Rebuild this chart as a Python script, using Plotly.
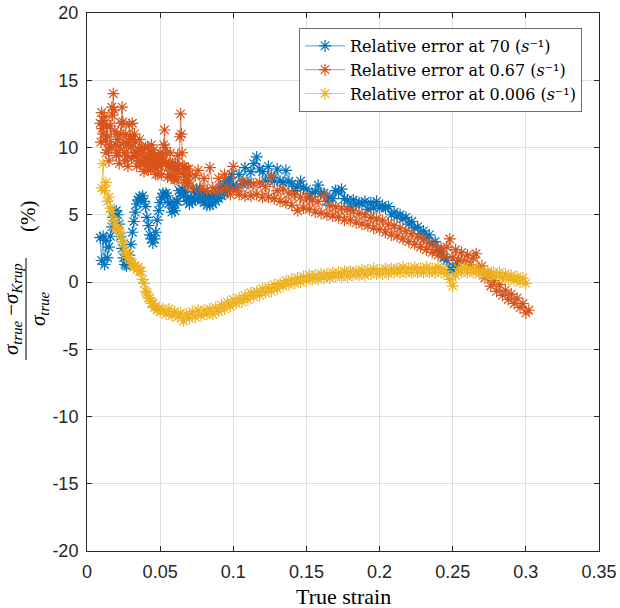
import plotly.graph_objects as go

# ---------------- data ----------------
strain_70 = [
    0.009, 0.010, 0.011, 0.012, 0.013, 0.014, 0.015, 0.016, 0.017, 0.018,
    0.019, 0.020, 0.021, 0.022, 0.023, 0.024, 0.025, 0.026, 0.027, 0.028,
    0.029, 0.030, 0.031, 0.032, 0.033, 0.034, 0.035, 0.036, 0.037, 0.038,
    0.039, 0.040, 0.041, 0.042, 0.043, 0.044, 0.045, 0.046, 0.047, 0.048,
    0.049, 0.050, 0.051, 0.052, 0.053, 0.054, 0.055, 0.056, 0.057, 0.058,
    0.059, 0.060, 0.061, 0.062, 0.063, 0.064, 0.065, 0.066, 0.067, 0.068,
    0.069, 0.070, 0.071, 0.072, 0.073, 0.074, 0.075, 0.076, 0.077, 0.078,
    0.079, 0.080, 0.081, 0.082, 0.083, 0.084, 0.085, 0.086, 0.087, 0.088,
    0.089, 0.090, 0.091, 0.092, 0.093, 0.094, 0.095, 0.096, 0.097, 0.098,
    0.099, 0.100, 0.102, 0.104, 0.106, 0.108, 0.110, 0.112, 0.114, 0.116,
    0.118, 0.120, 0.122, 0.124, 0.126, 0.128, 0.130, 0.132, 0.134, 0.136,
    0.138, 0.140, 0.142, 0.144, 0.146, 0.148, 0.150, 0.152, 0.154, 0.156,
    0.158, 0.160, 0.162, 0.164, 0.166, 0.168, 0.170, 0.172, 0.174, 0.176,
    0.178, 0.180, 0.182, 0.184, 0.186, 0.188, 0.190, 0.192, 0.194, 0.196,
    0.198, 0.200, 0.202, 0.204, 0.206, 0.208, 0.210, 0.212, 0.214, 0.216,
    0.218, 0.220, 0.222, 0.224, 0.226, 0.228, 0.230, 0.232, 0.234, 0.236,
    0.238, 0.240, 0.242, 0.244, 0.246, 0.248, 0.250, 0.252, 0.253]
err_70 = [
    3.3, 1.6, 3.4, 1.3, 3.1, 1.8, 2.6, 3.4, 4.1, 4.8,
    5.2, 5.3, 5.0, 4.3, 3.4, 2.5, 1.8, 1.3, 1.2, 1.4,
    2.0, 2.8, 3.7, 4.5, 5.2, 5.8, 6.1, 6.3, 6.2, 6.4,
    6.0, 5.6, 4.8, 4.2, 3.5, 3.2, 2.9, 3.2, 3.7, 4.6,
    5.3, 5.9, 6.3, 6.6, 6.4, 6.6, 6.4, 5.8, 5.9, 5.2,
    5.5, 5.3, 6.0, 6.0, 6.8, 6.6, 6.9, 6.4, 6.7, 6.0,
    6.3, 5.8, 6.2, 6.0, 6.7, 6.1, 6.9, 6.3, 6.9, 6.1,
    6.6, 5.9, 6.4, 5.7, 6.3, 5.7, 6.4, 5.8, 6.5, 6.0,
    6.7, 6.2, 7.0, 6.4, 7.2, 6.6, 7.5, 6.8, 7.7, 7.0,
    8.0, 7.2, 7.0, 8.0, 7.3, 8.5, 7.4, 8.2, 8.8, 9.3,
    8.4, 8.2, 7.5, 8.6, 7.8, 7.5, 8.4, 7.5, 7.4, 8.3,
    7.5, 7.3, 6.8, 7.1, 7.5, 7.0, 6.9, 6.3, 6.6, 6.7,
    7.2, 6.6, 6.6, 6.0, 6.3, 6.2, 6.8, 6.7, 6.9, 6.2,
    6.1, 5.6, 6.1, 5.8, 5.9, 5.8, 6.0, 5.4, 5.9, 5.5,
    6.0, 5.5, 5.7, 5.5, 5.6, 5.0, 5.2, 4.9, 5.0, 4.7,
    4.8, 4.3, 4.5, 4.0, 4.1, 3.6, 3.8, 3.3, 3.5, 2.9,
    3.0, 2.4, 2.3, 1.8, 1.6, 1.0, 0.9, 1.0, 1.4]

strain_067 = [
    0.009, 0.0095, 0.010, 0.0105, 0.011, 0.0115, 0.012, 0.0125, 0.013, 0.0135,
    0.014, 0.0145, 0.015, 0.0155, 0.016, 0.0165, 0.017, 0.0175, 0.018, 0.0185,
    0.019, 0.0195, 0.020, 0.0205, 0.021, 0.0215, 0.022, 0.0225, 0.023, 0.0235,
    0.024, 0.0245, 0.025, 0.0255, 0.026, 0.0265, 0.027, 0.0275, 0.028, 0.0285,
    0.029, 0.0295, 0.030, 0.0305, 0.031, 0.0315, 0.032, 0.0325, 0.033, 0.0335,
    0.034, 0.0345, 0.035, 0.0355, 0.036, 0.0365, 0.037, 0.0375, 0.038, 0.0385,
    0.039, 0.0395, 0.040, 0.0405, 0.041, 0.0415, 0.042, 0.0425, 0.043, 0.0435,
    0.044, 0.0445, 0.045, 0.0455, 0.046, 0.0465, 0.047, 0.0475, 0.048, 0.0485,
    0.049, 0.0495, 0.050, 0.0505, 0.051, 0.0515, 0.052, 0.0525, 0.053, 0.0535,
    0.054, 0.0545, 0.055, 0.0555, 0.056, 0.0565, 0.057, 0.0575, 0.058, 0.0585,
    0.059, 0.0595, 0.060, 0.0605, 0.061, 0.0615, 0.062, 0.0625, 0.063, 0.0635,
    0.064, 0.0645, 0.065, 0.0655, 0.066, 0.0665, 0.067, 0.0675, 0.068, 0.0685,
    0.069, 0.0695, 0.070,
    0.072, 0.074, 0.076, 0.078, 0.080, 0.082, 0.084, 0.086, 0.088, 0.090,
    0.092, 0.094, 0.096, 0.098, 0.100, 0.102, 0.104, 0.106, 0.108, 0.110,
    0.112, 0.114, 0.116, 0.118, 0.120, 0.122, 0.124, 0.126, 0.128, 0.130,
    0.132, 0.134, 0.136, 0.138, 0.140, 0.142, 0.144, 0.146, 0.148, 0.150,
    0.152, 0.154, 0.156, 0.158, 0.160, 0.162, 0.164, 0.166, 0.168, 0.170,
    0.172, 0.174, 0.176, 0.178, 0.180, 0.182, 0.184, 0.186, 0.188, 0.190,
    0.192, 0.194, 0.196, 0.198, 0.200, 0.202, 0.204, 0.206, 0.208, 0.210,
    0.212, 0.214, 0.216, 0.218, 0.220, 0.222, 0.224, 0.226, 0.228, 0.230,
    0.232, 0.234, 0.236, 0.238, 0.240, 0.242, 0.244, 0.246, 0.248, 0.250,
    0.252, 0.254, 0.256, 0.258, 0.260, 0.262, 0.264, 0.266, 0.268, 0.270,
    0.272, 0.274, 0.276, 0.278, 0.280, 0.282, 0.284, 0.286, 0.288, 0.290,
    0.292, 0.294, 0.296, 0.298, 0.300, 0.302]
err_067 = [
    11.8, 10.4, 12.6, 11.4, 11.0, 12.0, 12.3, 10.5, 9.6, 11.6,
    10.8, 9.8, 9.0, 10.2, 11.6, 10.0, 13.0, 12.4, 14.0, 12.8,
    11.2, 10.2, 9.4, 11.0, 10.6, 9.6, 8.8, 10.0, 11.0, 11.8,
    13.0, 11.9, 10.4, 9.6, 9.0, 11.0, 10.2, 9.4, 8.6, 10.4,
    11.7, 10.8, 10.0, 9.2, 11.8, 10.6, 9.4, 11.0, 10.4, 9.4,
    8.6, 9.6, 9.8, 9.0, 10.6, 9.8, 8.8, 10.0, 9.6, 8.8,
    8.2, 9.2, 10.0, 8.6, 9.2, 10.0, 8.4, 9.0, 9.6, 8.4,
    10.2, 9.2, 8.6, 9.8, 9.4, 8.6, 8.0, 8.8, 9.2, 8.0,
    8.6, 9.2, 9.6, 8.6, 8.0, 9.4, 9.0, 10.2, 11.3, 10.0,
    8.8, 9.6, 7.8, 8.6, 8.8, 8.0, 9.6, 8.6, 7.8, 8.8,
    8.6, 7.8, 7.6, 8.8, 8.4, 7.6, 9.4, 8.6, 8.2, 10.8,
    12.5, 11.0, 9.6, 8.6, 8.0, 8.6, 7.4, 7.8, 8.4, 7.6,
    7.2, 8.4, 8.0,
    7.0, 7.9, 8.3, 6.9, 7.7, 6.8, 8.5, 7.0, 6.7, 7.7,
    6.8, 8.0, 7.0, 6.5, 8.6, 6.8, 6.5, 7.5, 6.4, 7.3,
    6.4, 7.3, 6.5, 7.4, 6.3, 7.1, 6.3, 7.9, 6.2, 6.8,
    6.0, 6.9, 5.9, 6.6, 5.7, 6.5, 5.3, 6.3, 5.5, 6.3,
    5.4, 6.1, 5.2, 6.0, 5.1, 6.4, 5.0, 5.7, 4.9, 5.6,
    4.8, 5.5, 4.6, 5.4, 4.6, 5.3, 4.4, 5.1, 4.3, 5.0,
    4.2, 4.8, 4.0, 4.7, 3.9, 4.6, 3.7, 4.3, 3.5, 4.2,
    3.4, 4.0, 3.2, 3.8, 3.0, 3.6, 2.8, 3.4, 2.6, 3.2,
    2.4, 2.9, 2.2, 2.7, 2.0, 2.5, 1.9, 2.6, 3.2, 1.8,
    2.4, 1.6, 2.2, 1.5, 2.0, 1.3, 1.8, 2.1, 1.0, 1.2,
    0.3, 0.6, -0.3, 0.1, -0.7, -0.2, -1.0, -0.6, -1.3, -0.9,
    -1.6, -1.2, -1.9, -1.6, -2.3, -2.1]

strain_0006 = [
    0.010, 0.011, 0.012, 0.013, 0.014, 0.015, 0.016, 0.017, 0.018, 0.019,
    0.020, 0.021, 0.022, 0.023, 0.024, 0.025, 0.026, 0.027, 0.028, 0.029,
    0.030, 0.031, 0.032, 0.033, 0.034, 0.035, 0.036, 0.037, 0.038, 0.039,
    0.040, 0.041, 0.042, 0.043, 0.044, 0.045, 0.046, 0.047, 0.048, 0.049,
    0.050, 0.052, 0.054, 0.056, 0.058, 0.060, 0.062, 0.064, 0.066, 0.068,
    0.070, 0.072, 0.074, 0.076, 0.078, 0.080, 0.082, 0.084, 0.086, 0.088,
    0.090, 0.092, 0.094, 0.096, 0.098, 0.100, 0.102, 0.104, 0.106, 0.108,
    0.110, 0.112, 0.114, 0.116, 0.118, 0.120, 0.122, 0.124, 0.126, 0.128,
    0.130, 0.132, 0.134, 0.136, 0.138, 0.140, 0.142, 0.144, 0.146, 0.148,
    0.150, 0.152, 0.154, 0.156, 0.158, 0.160, 0.162, 0.164, 0.166, 0.168,
    0.170, 0.172, 0.174, 0.176, 0.178, 0.180, 0.182, 0.184, 0.186, 0.188,
    0.190, 0.192, 0.194, 0.196, 0.198, 0.200, 0.202, 0.204, 0.206, 0.208,
    0.210, 0.212, 0.214, 0.216, 0.218, 0.220, 0.222, 0.224, 0.226, 0.228,
    0.230, 0.232, 0.234, 0.236, 0.238, 0.240, 0.242, 0.244, 0.246, 0.248,
    0.250, 0.252, 0.254, 0.256, 0.258, 0.260, 0.262, 0.264, 0.266, 0.268,
    0.270, 0.272, 0.274, 0.276, 0.278, 0.280, 0.282, 0.284, 0.286, 0.288,
    0.290, 0.292, 0.294, 0.296, 0.298, 0.300]
err_0006 = [
    7.0, 8.8, 6.8, 7.4, 6.0, 6.3, 5.5, 5.2, 4.6, 4.5,
    4.0, 4.1, 3.7, 3.6, 3.0, 2.9, 2.3, 2.2, 1.8, 1.8,
    1.4, 1.4, 1.1, 1.2, 0.9, 1.1, 0.8, 0.8, 0.2, -0.1,
    -0.7, -0.8, -1.2, -1.2, -1.6, -1.6, -1.9, -1.8, -2.1, -2.0,
    -2.2, -2.0, -2.4, -2.0, -2.5, -2.2, -2.6, -2.3, -2.9, -2.4,
    -2.7, -2.2, -2.6, -2.1, -2.5, -2.1, -2.4, -2.0, -2.4, -1.9,
    -2.2, -1.7, -2.0, -1.5, -1.8, -1.3, -1.6, -1.2, -1.5, -1.0,
    -1.3, -0.8, -1.1, -0.7, -1.0, -0.5, -0.8, -0.4, -0.7, -0.2,
    -0.5, -0.1, -0.3, 0.1, -0.2, 0.2, -0.1, 0.3, 0.0, 0.4,
    0.1, 0.5, 0.2, 0.5, 0.2, 0.6, 0.3, 0.6, 0.3, 0.7,
    0.4, 0.7, 0.4, 0.8, 0.4, 0.8, 0.5, 0.8, 0.5, 0.9,
    0.5, 0.9, 0.6, 1.0, 0.6, 0.9, 0.6, 1.0, 0.6, 1.0,
    0.7, 1.0, 0.7, 1.1, 0.7, 1.0, 0.7, 1.1, 0.7, 1.0,
    0.7, 1.1, 0.7, 1.0, 0.7, 1.1, 0.7, 1.0, 0.6, 0.2,
    -0.3, 0.5, 1.0, 0.7, 1.1, 0.7, 1.0, 0.7, 1.0, 0.6,
    0.9, 0.5, 0.8, 0.5, 0.7, 0.4, 0.7, 0.3, 0.6, 0.2,
    0.5, 0.1, 0.4, 0.0, 0.3, -0.1]

series_names = ["Relative error at 70 (<i>s</i>⁻¹)",
                "Relative error at 0.67 (<i>s</i>⁻¹)",
                "Relative error at 0.006 (<i>s</i>⁻¹)"]
series_colors = ["#0072BD", "#D95319", "#EDB120"]

x_tickvals = [0, 0.05, 0.1, 0.15, 0.2, 0.25, 0.3, 0.35]
x_ticktext = ["0", "0.05", "0.1", "0.15", "0.2", "0.25", "0.3", "0.35"]
y_tickvals = [-20, -15, -10, -5, 0, 5, 10, 15, 20]
y_ticktext = ["-20", "-15", "-10", "-5", "0", "5", "10", "15", "20"]

assert len(strain_70) == len(err_70), (len(strain_70), len(err_70))
assert len(strain_067) == len(err_067), (len(strain_067), len(err_067))
assert len(strain_0006) == len(err_0006), (len(strain_0006), len(err_0006))

# ---------------- figure ----------------
W, H = 620, 608
L, R, T, B = 87, 599, 13, 551          # plot area in pixels


def pxx(x):
    return (x - L) / (R - L)


def pxy(y):
    return (B - y) / (B - T)


fig = go.Figure()
for xs, ys, nm, col in zip([strain_70, strain_067, strain_0006],
                           [err_70, err_067, err_0006],
                           series_names, series_colors):
    fig.add_trace(go.Scatter(
        x=xs, y=ys, mode="lines+markers", name=nm,
        line=dict(color=col, width=0.7),
        marker=dict(symbol="asterisk-open", size=10,
                    line=dict(width=1.2, color=col)),
    ))

axis_col = "#262626"
grid_col = "#dfdfdf"
tick_font = dict(family="Liberation Sans, Arial, sans-serif", size=18, color=axis_col)
serif = "Liberation Serif, Times New Roman, serif"

common_axis = dict(
    showgrid=True, gridcolor=grid_col, gridwidth=1, zeroline=False,
    showline=True, linecolor=axis_col, linewidth=1, mirror="ticks",
    ticks="inside", ticklen=5, tickcolor=axis_col, tickwidth=1,
    tickfont=tick_font, ticklabelstandoff=4, automargin=False,
    ticklabeloverflow="allow",
)

fig.update_layout(
    width=W, height=H,
    margin=dict(l=L, r=W - R, t=T, b=H - B, autoexpand=False),
    paper_bgcolor="white", plot_bgcolor="white",
    showlegend=True,
    legend=dict(
        x=pxx(299), y=pxy(28), xanchor="left", yanchor="top",
        bgcolor="white", bordercolor="#6e6e6e", borderwidth=1,
        font=dict(family="DejaVu Serif, serif", size=16, color="#000000"),
        itemwidth=40, tracegroupgap=0,
    ),
    xaxis=dict(range=[0, 0.35], tickvals=x_tickvals, ticktext=x_ticktext, **common_axis),
    yaxis=dict(range=[-20, 20], tickvals=y_tickvals, ticktext=y_ticktext, **common_axis),
)

label_font = dict(family=serif, size=21, color="#000000")
ann = [
    dict(text="True strain", x=pxx(343), y=pxy(596), xanchor="center", yanchor="middle",
         font=dict(family=serif, size=22, color="#000000")),
    dict(text="<i>σ</i><sub><i>true</i></sub> −<i>σ</i><sub><i>Krup</i></sub>",
         x=pxx(12), y=pxy(309), textangle=-90, xanchor="center", yanchor="middle",
         font=label_font),
    dict(text="<i>σ</i><sub><i>true</i></sub>",
         x=pxx(39), y=pxy(309), textangle=-90, xanchor="center", yanchor="middle",
         font=label_font),
    dict(text="(%)", x=pxx(28), y=pxy(217), textangle=-90, xanchor="center", yanchor="middle",
         font=dict(family=serif, size=21, color="#000000")),
]
for a in ann:
    a.update(xref="paper", yref="paper", showarrow=False)
fig.update_layout(annotations=ann)

fig.add_shape(type="line", xref="paper", yref="paper",
              x0=pxx(26), x1=pxx(26), y0=pxy(258), y1=pxy(360),
              line=dict(color="#000000", width=1))

# remove the default 8 px body margin so the 620x608 figure fills the window exactly
fig.write_html("out.html", config={"displayModeBar": False},
               post_script="document.body.style.margin='0';")
